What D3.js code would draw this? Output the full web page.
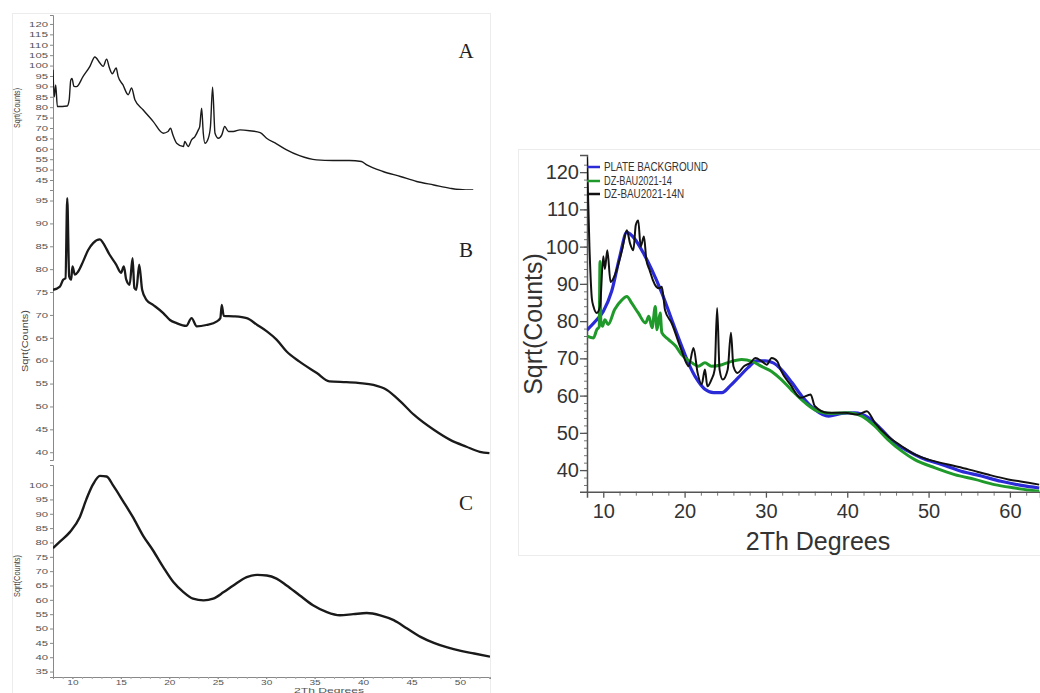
<!DOCTYPE html>
<html><head><meta charset="utf-8">
<script src="https://cdn.jsdelivr.net/npm/d3@7"></script>
<style>body{margin:0;background:#fff}svg{display:block}</style>
</head><body><svg id="c" width="1040" height="693"></svg>
<script>
// ---------- DATA ----------
// Panel A
const xA = [8.0,8.13,8.28,8.45,9.47,9.67,9.83,9.96,10.16,10.43,11.11,11.81,12.32,12.84,13.18,13.53,13.83,14.12,14.52,14.72,15.21,15.76,16.11,16.45,17.29,18.33,19.38,19.87,20.13,20.37,20.76,21.46,21.6,21.95,22.3,22.65,23.0,23.14,23.34,23.51,23.68,24.03,24.25,24.47,24.72,25.07,25.42,25.72,26.11,26.61,27.3,28.29,29.38,30.04,31.07,32.11,33.44,35.2,36.91,38.6,39.83,40.38,42.06,43.85,45.53,47.3,48.99,50.58,51.37];
const yA = [98,85,90.7,80.3,80.6,83.5,93,93.8,90,89.9,94.8,99.6,104.1,101.2,99.6,103.1,98.8,96.1,98.8,94.8,90.8,86,89.2,83.6,78.8,73.2,67.5,68.3,69.9,66.7,62.7,61.1,63.5,61.1,64.3,65.9,69.1,70.7,79.5,67.5,62.7,65.1,70.7,89.6,67.5,65.1,66.7,70.7,68.3,68.3,69.1,68.7,67.8,65.1,62.4,59.5,56.7,54.7,54.4,54.4,53.9,52.3,49.1,46.7,44.3,42.6,41,40.2,40.2];
// Panel B
const xB = [8.0,8.71,9.05,9.29,9.47,9.67,9.87,10.01,10.26,10.6,11.11,11.63,12.14,12.84,13.18,13.83,14.52,15.02,15.31,15.56,15.91,16.21,16.4,16.6,16.9,17.2,17.64,18.33,19.38,20.07,20.76,21.75,22.3,22.84,23.83,24.92,25.27,25.42,25.62,26.61,27.99,29.08,30.07,31.07,32.11,33.44,35.23,36.51,38.29,39.68,41.07,42.46,43.85,45.24,47.3,48.99,50.67,52.05,53.04];
const yB = [75.5,76.2,77.7,78,95.5,78.4,77.7,80.6,78.8,79.5,81.7,84.2,85.7,86.5,85.7,83.2,81,79.2,80.6,77.7,76.6,82.4,75.9,75.5,81,75.5,73.3,72.2,70.4,68.9,68.2,67.6,69.3,67.5,67.8,68.6,69.3,72.2,69.8,69.7,69.3,67.8,66.4,64.6,62,59.8,57.3,55.5,55.3,55.1,54.7,53.6,51.1,48.2,44.9,42.7,41.2,40.1,39.8];
// Panel C
const xC = [8.0,8.71,9.74,10.76,11.45,12.14,12.84,13.53,14.22,15.21,16.25,17.29,18.33,19.38,20.42,21.46,22.45,23.54,24.53,25.62,26.61,27.99,29.08,30.07,31.07,32.11,33.44,34.83,36.21,37.6,38.98,40.38,41.77,43.16,44.55,45.93,47.3,48.7,50.09,51.47,53.1];
const yC = [78,80.3,83.6,88.8,95.1,100.3,103.2,103,99.8,94.5,88.8,82.4,77.2,71.4,66.2,62.7,60.4,59.8,60.4,62.7,65,67.9,68.7,68.5,67.4,65,61.6,58.1,55.8,54.6,55,55.4,54.6,52.9,50,47.1,45,43.4,42.2,41.3,40.2];
// Right panel
const xPlate = [8,9,10,11.03,12.05,12.88,13.9,14.9,15.95,17.2,18.4,19.64,20.46,21.5,22.5,23.55,24.6,25.6,26.6,27.8,28.87,29.9,30.9,31.9,33.2,34.4,36,37.7,39.3,40.9,42.6,44.2,45.8,47.5,49.1,51.6,54,56.5,58.9,61.4,63.6];
const yPlate = [77.6,79.9,82.6,88,97.5,103.8,102,98.4,93.9,87.6,80.5,73.3,68.8,64.4,61.7,60.8,60.8,62.6,64.8,67.5,69.3,69.3,68.8,67,63.5,59.9,56.3,54.5,55.2,55.4,54.1,50.9,47.4,45.1,43.3,41.5,39.7,38.4,37,35.9,35.2];
const x14 = [8,8.8,9.2,9.5,9.6,9.7,9.9,10.2,10.6,11.4,12.3,12.9,13.5,14.3,15.2,15.6,16.0,16.4,16.6,17.0,17.2,18,18.9,19.6,20.9,21.7,22.5,23.3,24.6,25.8,27,28.3,29.4,30.7,31.9,33.1,34.8,36.4,38.1,40.2,41.8,43.4,45,46.7,48.3,50.8,53.2,55.7,58.1,60.6,63.6];
const y14 = [76,75.5,77.7,78.5,96,80,78.6,80.4,79.1,83.1,85.7,86.6,84.8,82.2,79.5,81.3,78.2,83.9,77.7,82.2,76.9,75.1,73.3,71.1,68.8,67.9,68.8,67.9,68.3,69.2,69.7,69.2,67.9,66.5,64.3,61.6,58.1,55.8,55.2,55.4,54.5,51.8,48.2,45.1,42.8,40.6,38.8,37.5,36.1,35.2,34.3];
const x14N = [8.0,8.3,8.6,8.8,9.2,9.6,10.0,10.2,10.5,10.9,11.5,12.3,12.9,13.3,13.7,14.0,14.3,14.6,15.0,15.3,15.7,16.1,16.5,16.9,17.2,17.6,18.4,19.6,20.5,21.1,21.6,22.1,22.5,22.8,23.3,23.7,24.0,24.3,24.7,25.3,25.7,26.0,26.5,27.3,28.1,28.7,29.5,30.1,30.7,31.4,31.8,33.0,34.3,35.5,36.0,37.6,39.7,41.3,42.4,43.4,45,46.7,48.3,50,52.4,54.9,57.3,59.8,62.3,63.6];
const y14N = [124,100,86,83.9,82.2,84,97.4,94,99,90.5,92.8,99,104.4,100.8,99,105.8,107,100,102.7,96.4,93.7,91,89.3,88.8,89.2,82.9,79.5,72.3,67.9,72.8,66.1,63,67,62.5,64.3,67,83.5,67,64.3,67,76.9,67.9,66.1,67.9,68.8,70.1,69.2,68.3,70.1,69.2,67,63,59.4,60.3,57.2,55.4,55.4,54.9,55.8,52.7,49.1,46.4,44.2,42.8,41.5,40.2,38.8,37.5,36.6,36.1];

// Tick labels
const ticksA = [45,50,55,60,65,70,75,80,85,90,95,100,105,110,115,120];
const ticksB = [40,45,50,55,60,65,70,75,80,85,90,95];
const ticksC = [35,40,45,50,55,60,65,70,75,80,85,90,95,100];
const xTicksLeft = [10,15,20,25,30,35,40,45,50];
const yTicksRight = [40,50,60,70,80,90,100,110,120];
const xTicksRight = [10,20,30,40,50,60];
const legendNames = ["PLATE BACKGROUND","DZ-BAU2021-14","DZ-BAU2021-14N"];
const legendColors = ["#2a2ad6","#1f9a2a","#111111"];
const panelLabels = ["A","B","C"];

// ---------- DRAW ----------
const svg = d3.select("#c");
const zip = (xs, ys) => xs.map((x,i)=>[x, ys[i]]);

// faint frames
svg.append("rect").attr("x",12.5).attr("y",13.5).attr("width",478).attr("height",700)
  .attr("fill","none").attr("stroke","#ececec");
svg.append("rect").attr("x",518.5).attr("y",149.5).attr("width",540).attr("height",406)
  .attr("fill","none").attr("stroke","#ececec");

// ----- Left panels -----
const xL = d3.scaleLinear().domain([8, 53.1]).range([53, 490]);
const panels = [
  {id:"A", xs:xA, ys:yA, y:d3.scaleLinear().domain([40.2,124.3]).range([190,15]), ticks:ticksA, top:13, bot:190, lab:[466,58], ylab:[20,108,40], sw:1.4},
  {id:"B", xs:xB, ys:yB, y:d3.scaleLinear().domain([38.3,97.3]).range([460,190]), ticks:ticksB, top:190, bot:460, lab:[466,257], ylab:[28,341,62], sw:2.3},
  {id:"C", xs:xC, ys:yC, y:d3.scaleLinear().domain([33.1,107]).range([677,465]), ticks:ticksC, top:465, bot:677, lab:[466,510], ylab:[20,576,42], sw:2.4}
];
panels.forEach((p,i)=>{
  svg.append("clipPath").attr("id","clip"+p.id).append("rect")
    .attr("x",53).attr("y",p.top).attr("width",437).attr("height",p.bot-p.top);
  const g = svg.append("g").attr("transform","translate(53,0)");
  const ax = d3.axisLeft(p.y).tickValues(p.ticks).tickSize(3).tickPadding(2);
  g.call(ax);
  g.select(".domain").attr("stroke","#888");
  g.selectAll(".tick line").attr("stroke","#888");
  g.selectAll(".tick text").attr("font-family","Liberation Sans, Arial").attr("font-size",7)
    .attr("fill","#555").each(function(){
      const t = d3.select(this); const n = t.text().length;
      t.attr("textLength", n*6.3).attr("lengthAdjust","spacingAndGlyphs");
    });
  const line = d3.line().x(d=>xL(d[0])).y(d=>p.y(d[1])).curve(d3.curveMonotoneX);
  svg.append("path").attr("d", line(zip(p.xs,p.ys))).attr("clip-path","url(#clip"+p.id+")")
    .attr("fill","none").attr("stroke","#1a1a1a").attr("stroke-width",p.sw).attr("stroke-linejoin","round");
  svg.append("text").attr("x",p.lab[0]).attr("y",p.lab[1]).attr("text-anchor","middle")
    .attr("font-family","Liberation Serif, Times New Roman, serif").attr("font-size",21).attr("fill","#222")
    .text(panelLabels[i]);
  svg.append("text").attr("transform",`translate(${p.ylab[0]},${p.ylab[1]}) rotate(-90)`)
    .attr("text-anchor","middle").attr("font-family","Liberation Sans, Arial").attr("font-size",9)
    .attr("fill","#444").attr("textLength",p.ylab[2]).attr("lengthAdjust","spacingAndGlyphs")
    .text("Sqrt(Counts)");
});
// bottom x axis of panel C
const gxC = svg.append("g").attr("transform","translate(0,677)");
gxC.call(d3.axisBottom(xL).tickValues(d3.range(9,54,1)).tickSize(2).tickFormat(""));
gxC.select(".domain").attr("stroke","#888");
gxC.selectAll(".tick line").attr("stroke","#aaa");
const gxC2 = svg.append("g").attr("transform","translate(0,677)");
gxC2.call(d3.axisBottom(xL).tickValues(xTicksLeft).tickSize(2).tickPadding(1));
gxC2.select(".domain").remove();
gxC2.selectAll(".tick line").attr("stroke","#888");
gxC2.selectAll(".tick text").attr("font-family","Liberation Sans, Arial").attr("font-size",6.5).attr("fill","#555")
  .each(function(){ const t=d3.select(this); t.attr("textLength",t.text().length*5.6).attr("lengthAdjust","spacingAndGlyphs"); });
svg.append("text").attr("x",329).attr("y",693).attr("text-anchor","middle")
  .attr("font-family","Liberation Sans, Arial").attr("font-size",7).attr("fill","#555")
  .attr("textLength",70).attr("lengthAdjust","spacingAndGlyphs").text("2Th Degrees");

// ----- Right panel -----
const xR = d3.scaleLinear().domain([8, 63.7]).range([587, 1040]);
const yR = d3.scaleLinear().domain([34.2, 124.6]).range([491.7, 155]);
svg.append("clipPath").attr("id","clipR").append("rect")
  .attr("x",587).attr("y",155).attr("width",453).attr("height",336.7);

const gyRm = svg.append("g").attr("transform","translate(587,0)");
gyRm.call(d3.axisLeft(yR).tickValues(d3.range(36,124,2)).tickSize(3).tickFormat(""));
gyRm.select(".domain").remove();
gyRm.selectAll(".tick line").attr("stroke","#777");
const gyR = svg.append("g").attr("transform","translate(587,0)");
gyR.call(d3.axisLeft(yR).tickValues(yTicksRight).tickSize(7).tickPadding(1));
gyR.select(".domain").attr("stroke","#555").attr("stroke-width",1.5);
gyR.selectAll(".tick line").attr("stroke","#555").attr("stroke-width",1.3);
gyR.selectAll(".tick text").attr("font-family","Liberation Sans, Arial").attr("font-size",20).attr("fill","#333");

const gxRm = svg.append("g").attr("transform","translate(0,491.7)");
gxRm.call(d3.axisBottom(xR).tickValues(d3.range(12,64,2).filter(v=>v%10!==0)).tickSize(4).tickFormat(""));
gxRm.select(".domain").remove();
gxRm.selectAll(".tick line").attr("stroke","#777");
const gxR = svg.append("g").attr("transform","translate(0,491.7)");
gxR.call(d3.axisBottom(xR).tickValues(xTicksRight).tickSize(6).tickPadding(6));
gxR.select(".domain").attr("stroke","#555").attr("stroke-width",1.5);
gxR.selectAll(".tick line").attr("stroke","#555").attr("stroke-width",1.3);
gxR.selectAll(".tick text").attr("font-family","Liberation Sans, Arial").attr("font-size",20).attr("fill","#333");

const lineR = d3.line().x(d=>xR(d[0])).y(d=>yR(d[1])).curve(d3.curveMonotoneX);
const seriesR = [[xPlate,yPlate,3.2],[x14,y14,3],[x14N,y14N,2]];
seriesR.forEach((s,i)=>{
  svg.append("path").attr("d", lineR(zip(s[0],s[1]))).attr("clip-path","url(#clipR)")
    .attr("fill","none").attr("stroke",legendColors[i]).attr("stroke-width",s[2]).attr("stroke-linejoin","round");
});

// legend
const legY = [167, 181, 194];
const legLen = [104, 68, 80];
legendNames.forEach((n,i)=>{
  svg.append("line").attr("x1",587).attr("x2",600).attr("y1",legY[i]).attr("y2",legY[i])
    .attr("stroke",legendColors[i]).attr("stroke-width",2.5);
  svg.append("text").attr("x",604).attr("y",legY[i]+4).attr("font-family","Liberation Sans, Arial")
    .attr("font-size",12).attr("fill","#333").attr("textLength",legLen[i]).attr("lengthAdjust","spacingAndGlyphs").text(n);
});

svg.append("text").attr("x",818).attr("y",550).attr("text-anchor","middle")
  .attr("font-family","Liberation Sans, Arial").attr("font-size",25).attr("fill","#333").text("2Th Degrees");
svg.append("text").attr("transform","translate(542,324) rotate(-90)").attr("text-anchor","middle")
  .attr("font-family","Liberation Sans, Arial").attr("font-size",25).attr("fill","#333").text("Sqrt(Counts)");
</script></body></html>
